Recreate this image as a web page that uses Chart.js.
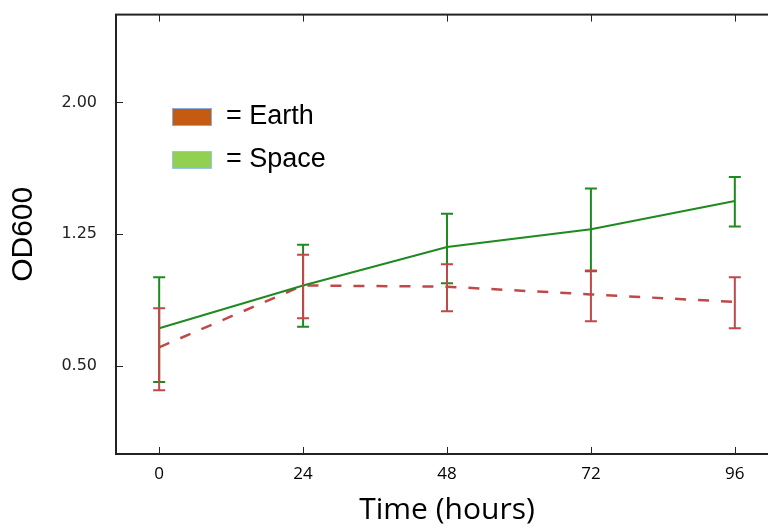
<!DOCTYPE html>
<html>
<head>
<meta charset="utf-8">
<script src="https://cdn.jsdelivr.net/npm/chart.js@4/dist/chart.umd.min.js"></script>
<style>
    html, body { margin: 0; padding: 0; background: #fff; overflow: hidden; }
    #odChart { display: block; margin-top: -6px; }
</style>
</head>
<body>
<canvas id="odChart" width="780" height="535"></canvas>
<script>
// Data
const hours = [0, 24, 48, 72, 96];
const earthOD = [0.607, 0.959, 0.952, 0.908, 0.865];
const earthLow = [0.362, 0.773, 0.812, 0.756, 0.716];
const earthHigh = [0.829, 1.134, 1.079, 1.044, 1.006];
const spaceOD = [0.715, 0.959, 1.178, 1.279, 1.439];
const spaceLow = [0.410, 0.724, 0.972, 1.040, 1.294];
const spaceHigh = [1.006, 1.190, 1.367, 1.511, 1.576];
const yTicks = [0.5, 1.25, 2.0];
const legendItems = [
    { text: '= Earth', fill: '#C55A11', border: '#8FAADC' },
    { text: '= Space', fill: '#92D050', border: '#9DC3E6' }
];

const earthColor = '#c04848';
const spaceColor = '#1f8a1f';

// Error bars with caps
const errorBars = {
    id: 'errorBars',
    afterDatasetsDraw(chart) {
        const ctx = chart.ctx;
        const xs = chart.scales.x, ys = chart.scales.y;
        const sets = [
            { low: spaceLow, high: spaceHigh, color: spaceColor },
            { low: earthLow, high: earthHigh, color: earthColor }
        ];
        ctx.save();
        ctx.lineWidth = 2;
        sets.forEach(s => {
            ctx.strokeStyle = s.color;
            hours.forEach((h, i) => {
                const x = xs.getPixelForValue(h);
                const y1 = ys.getPixelForValue(s.low[i]);
                const y2 = ys.getPixelForValue(s.high[i]);
                ctx.beginPath();
                ctx.moveTo(x, y1); ctx.lineTo(x, y2);
                ctx.moveTo(x - 6, y1); ctx.lineTo(x + 6, y1);
                ctx.moveTo(x - 6, y2); ctx.lineTo(x + 6, y2);
                ctx.stroke();
            });
        });
        ctx.restore();
    }
};

// Box frame with inward tick marks (matplotlib look) + the legend
const frameTicks = {
    id: 'frameTicks',
    afterDraw(chart) {
        const ctx = chart.ctx;
        const a = chart.chartArea;
        const xs = chart.scales.x, ys = chart.scales.y;
        ctx.save();
        ctx.strokeStyle = '#222';
        ctx.lineWidth = 2;
        ctx.strokeRect(a.left, a.top, a.right - a.left, a.bottom - a.top);
        ctx.lineWidth = 1;
        ctx.beginPath();
        hours.forEach(h => {
            const x = Math.round(xs.getPixelForValue(h)) + 0.5;
            ctx.moveTo(x, a.bottom); ctx.lineTo(x, a.bottom - 7);
            ctx.moveTo(x, a.top); ctx.lineTo(x, a.top + 7);
        });
        yTicks.forEach(v => {
            const y = Math.round(ys.getPixelForValue(v)) + 0.5;
            ctx.moveTo(a.left, y); ctx.lineTo(a.left + 7, y);
            ctx.moveTo(a.right, y); ctx.lineTo(a.right - 7, y);
        });
        ctx.stroke();

        // legend inside the plot (canvas is shifted up 6px)
        ctx.font = '27px "Liberation Sans", Arial, sans-serif';
        ctx.textBaseline = 'middle';
        legendItems.forEach((item, i) => {
            const top = 114 + i * 43;
            ctx.fillStyle = item.fill;
            ctx.fillRect(172, top, 40, 18);
            ctx.strokeStyle = item.border;
            ctx.lineWidth = 1;
            ctx.strokeRect(172.5, top + 0.5, 39, 17);
            ctx.fillStyle = '#000';
            ctx.fillText(item.text, 226, top + 9);
        });
        ctx.restore();
    }
};

const ctx = document.getElementById('odChart').getContext('2d');
new Chart(ctx, {
    type: 'line',
    data: {
        datasets: [
            {
                label: 'Space',
                data: hours.map((h, i) => ({ x: h, y: spaceOD[i] })),
                borderColor: spaceColor,
                borderWidth: 2,
                pointRadius: 0,
                fill: false,
                tension: 0
            },
            {
                label: 'Earth',
                data: hours.map((h, i) => ({ x: h, y: earthOD[i] })),
                borderColor: earthColor,
                borderWidth: 2.5,
                borderDash: [11, 12],
                pointRadius: 0,
                fill: false,
                tension: 0
            }
        ]
    },
    options: {
        responsive: false,
        animation: false,
        layout: { padding: { top: 8, right: 2, left: 0, bottom: 0 } },
        plugins: {
            legend: { display: false },
            tooltip: { enabled: false }
        },
        scales: {
            x: {
                type: 'linear',
                min: -7.2,
                max: 103.2,
                afterBuildTicks: axis => { axis.ticks = hours.map(v => ({ value: v })); },
                afterFit: axis => { axis.height = 75; },
                grid: { display: false },
                border: { display: false },
                ticks: {
                    color: '#000',
                    padding: 2,
                    maxRotation: 0,
                    font: { family: '"Open Sans", sans-serif', size: 17 }
                },
                title: {
                    display: true,
                    text: 'Time (hours)',
                    color: '#000',
                    padding: { top: 0, bottom: 1 },
                    font: { family: '"Open Sans", sans-serif', size: 30 }
                }
            },
            y: {
                min: 0,
                max: 2.5,
                afterBuildTicks: axis => { axis.ticks = yTicks.map(v => ({ value: v })); },
                afterFit: axis => { axis.width = 116; },
                grid: { display: false },
                border: { display: false },
                ticks: {
                    color: '#222',
                    padding: 11,
                    callback: v => Number(v).toFixed(2),
                    font: { family: '"DejaVu Sans", sans-serif', size: 16 }
                },
                title: {
                    display: true,
                    text: 'OD600',
                    color: '#000',
                    padding: { top: 6, bottom: 0 },
                    font: { family: '"Liberation Sans", Arial, sans-serif', size: 30 }
                }
            }
        }
    },
    plugins: [errorBars, frameTicks]
});
</script>
</body>
</html>
